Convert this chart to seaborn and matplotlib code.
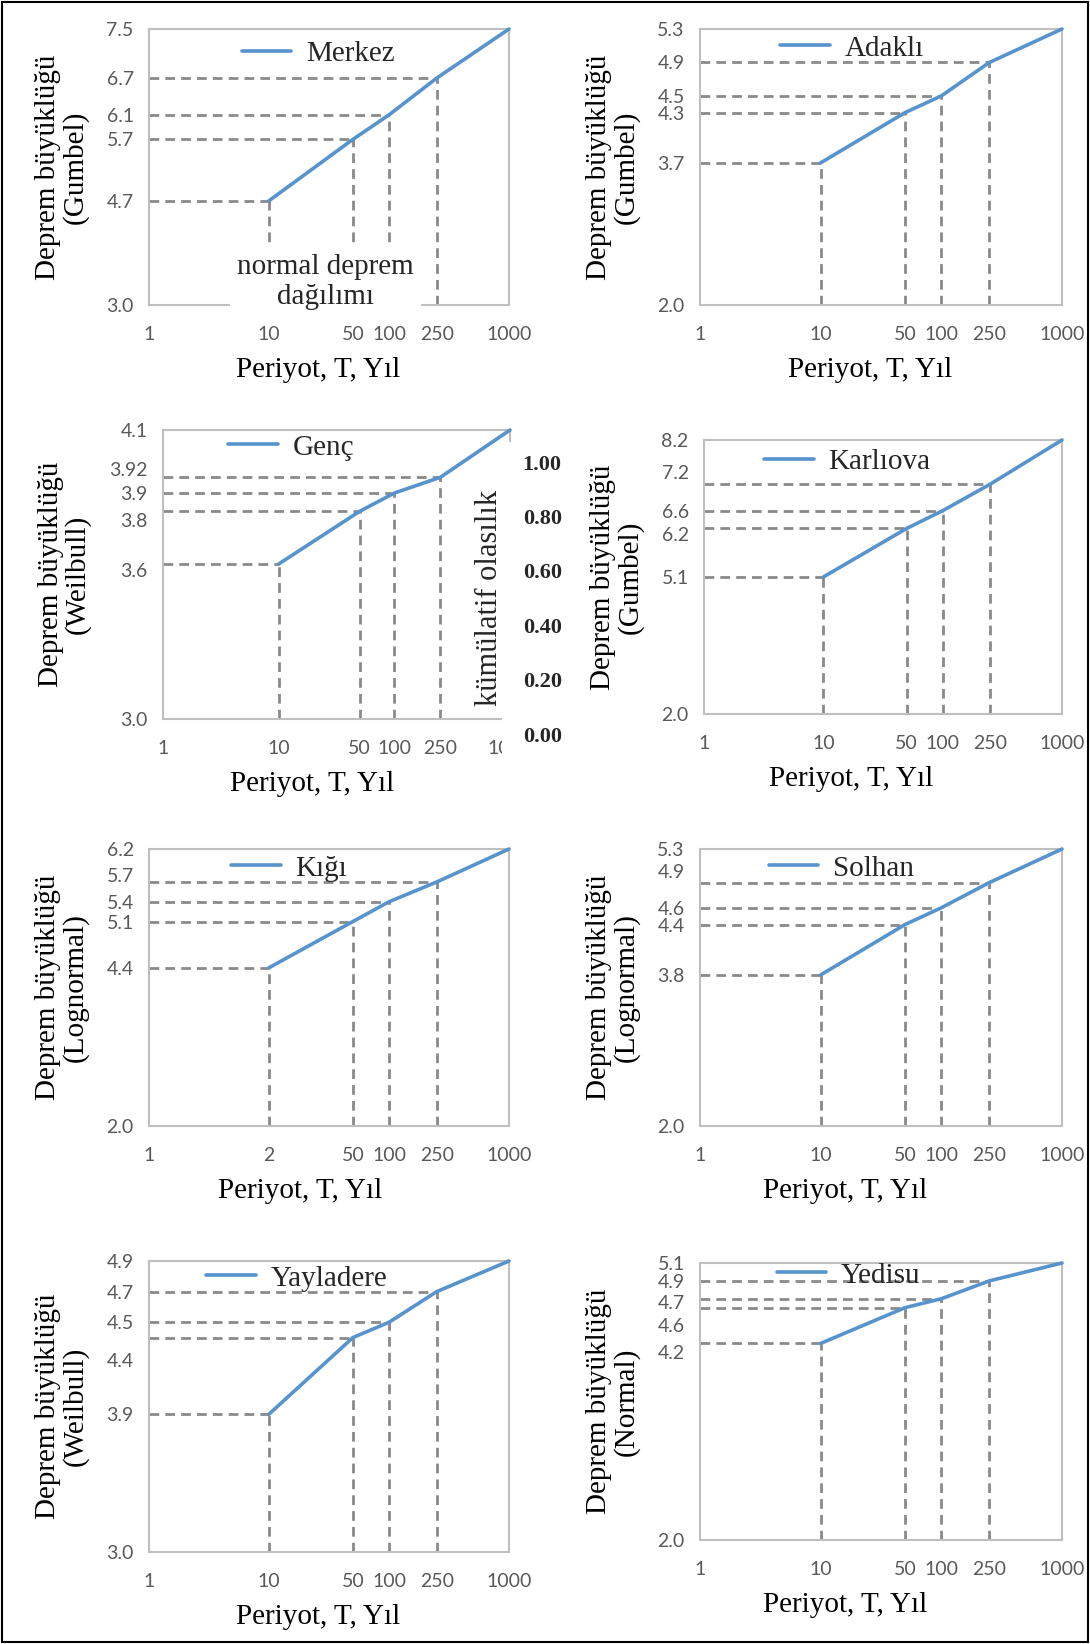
import matplotlib
matplotlib.use('Agg')
import matplotlib.pyplot as plt
import seaborn as sns
from matplotlib.patches import Rectangle
from matplotlib.ticker import NullLocator
from matplotlib.transforms import ScaledTranslation

# return periods (years) and magnitudes
periods = [10, 50, 100, 250, 1000]

stations = ['Merkez', 'Adaklı', 'Genç', 'Karlıova', 'Kığı', 'Solhan', 'Yayladere', 'Yedisu']
distributions = ['Gumbel', 'Gumbel', 'Weilbull', 'Gumbel', 'Lognormal', 'Lognormal', 'Weilbull', 'Normal']

merkez = [4.7, 5.7, 6.1, 6.7, 7.5]
adakli = [3.7, 4.3, 4.5, 4.9, 5.3]
genc = [3.59, 3.79, 3.86, 3.92, 4.1]
karliova = [5.1, 6.2, 6.6, 7.2, 8.2]
kigi = [4.4, 5.1, 5.4, 5.7, 6.2]
solhan = [3.8, 4.4, 4.6, 4.9, 5.3]
yayladere = [3.9, 4.4, 4.5, 4.7, 4.9]
yedisu = [4.2, 4.6, 4.7, 4.9, 5.1]
magnitudes = [merkez, adakli, genc, karliova, kigi, solhan, yayladere, yedisu]

y_min = [3.0, 2.0, 3.0, 2.0, 2.0, 2.0, 3.0, 2.0]

x_ticks = [1, 10, 50, 100, 250, 1000]
x_labels = ['1', '10', '50', '100', '250', '1000']
kigi_x_labels = ['1', '2', '50', '100', '250', '1000']
genc_y_labels = ['3.0', '3.6', '3.8', '3.9', '3.92', '4.1']
prob_ticks = [0.0, 0.2, 0.4, 0.6, 0.8, 1.0]

# layout (pixel boxes: left, top, right, bottom), legend anchors, xlabel centres
W, H = 1090, 1644
boxes = [(149, 29, 509, 305), (700, 29, 1062, 305),
         (163, 430, 510, 719), (704, 440, 1062, 714),
         (149, 849, 509, 1126), (700, 849, 1062, 1126),
         (149, 1261, 509, 1552), (700, 1263, 1062, 1540)]
legend_xy = [(0.47, 0.91), (0.42, 0.93), (0.37, 0.94), (0.40, 0.92),
             (0.39, 0.93), (0.39, 0.93), (0.41, 0.94), (0.41, 0.955)]
xlabel_x = [0.47, 0.47, 0.43, 0.41, 0.42, 0.40, 0.47, 0.40]
# y tick labels that sit off their line in the original (pixels, + = down)
label_nudge = {'Genç': {'3.92': -8, '3.8': 9, '3.6': 6},
               'Karlıova': {'7.2': -12, '6.2': 6},
               'Kığı': {'5.7': -7},
               'Solhan': {'4.9': -12},
               'Yayladere': {'4.4': 22},
               'Yedisu': {'4.7': 3, '4.6': 17, '4.2': 9}}

BLUE = '#5793cc'
GREY = '#8a8a8a'
SPINE = '#bfbfbf'
TICK = '#595959'
DASH = (0, (3.5, 2.2))

sns.set_theme(style='white')
plt.rcParams['font.family'] = ['Liberation Serif', 'DejaVu Serif']


def box(l, t, r, b):
    return [l / W, 1 - b / H, (r - l) / W, (b - t) / H]


fig = plt.figure(figsize=(10.9, 16.44), dpi=100)

axes = []
for i, name in enumerate(stations):
    ax = fig.add_axes(box(*boxes[i]))
    vals = magnitudes[i]
    lo, hi = y_min[i], vals[-1]
    ax.set_xscale('log')
    for p, v in zip(periods[:-1], vals[:-1]):
        ax.hlines(v, 1, p, colors=GREY, linestyles=DASH, lw=2.0, zorder=1)
        ax.vlines(p, lo, v, colors=GREY, linestyles=DASH, lw=2.0, zorder=1)
    sns.lineplot(x=periods, y=vals, ax=ax, color=BLUE, lw=2.6, label=name,
                 zorder=3, clip_on=False)
    ax.set_xlim(1, 1000)
    ax.set_ylim(lo, hi)
    ax.set_xticks(x_ticks)
    ax.set_xticklabels(kigi_x_labels if name == 'Kığı' else x_labels)
    ax.xaxis.set_minor_locator(NullLocator())
    ax.set_yticks([lo] + vals)
    if name == 'Genç':
        ax.set_yticklabels(genc_y_labels)
    else:
        ax.set_yticklabels([f'{v:.1f}' for v in [lo] + vals])
    ax.tick_params(axis='both', length=0, labelsize=14, labelcolor=TICK,
                   labelfontfamily='Lato')
    ax.tick_params(axis='x', pad=15)
    ax.tick_params(axis='y', pad=11)
    nudge = label_nudge.get(name, {})
    for lbl in ax.get_yticklabels():
        dy = nudge.get(lbl.get_text(), 0)
        if dy:
            lbl.set_transform(lbl.get_transform() +
                              ScaledTranslation(0, -dy / 100, fig.dpi_scale_trans))
    for s in ax.spines.values():
        s.set_color(SPINE)
        s.set_linewidth(1.5)
    ax.set_xlabel('Periyot, T, Yıl', fontsize=21, labelpad=10, color='black')
    ax.xaxis.label.set_x(xlabel_x[i])
    ax.set_ylabel(f'Deprem büyüklüğü\n({distributions[i]})', fontsize=21,
                  labelpad=13, color='black', linespacing=1.0)
    ax.legend(loc='center', bbox_to_anchor=legend_xy[i], frameon=False,
              prop={'family': 'Liberation Serif', 'size': 21},
              handlelength=1.7, handletextpad=0.5, borderpad=0)
    axes.append(ax)

# note inside Merkez panel, covering the bottom axis
axes[0].text(0.49, 0.083, 'normal deprem\ndağılımı', transform=axes[0].transAxes,
             ha='center', va='center', fontsize=21, linespacing=1.2, zorder=6,
             clip_on=False,
             bbox=dict(facecolor='white', edgecolor='none', pad=5))

# cumulative probability scale pasted beside the Genç panel
fig.add_artist(Rectangle((502 / W, 1 - 772 / H), 68 / W, 330 / H,
                         transform=fig.transFigure, facecolor='white',
                         edgecolor='none', zorder=5))
ax2 = fig.add_axes(box(512, 462, 513, 734))
ax2.set_zorder(6)
ax2.patch.set_alpha(0)
ax2.set_ylim(0, 1)
ax2.set_xticks([])
ax2.set_yticks(prob_ticks)
ax2.set_yticklabels([f'{v:.2f}' for v in prob_ticks])
ax2.yaxis.tick_right()
ax2.yaxis.set_label_position('left')
ax2.tick_params(axis='y', length=0, pad=7, labelsize=16)
for lbl in ax2.get_yticklabels():
    lbl.set_fontweight('bold')
for s in ax2.spines.values():
    s.set_visible(False)
ax2.set_ylabel('kümülatif olasılık', fontsize=22, labelpad=6)

# outer frame
fig.add_artist(Rectangle((0.002, 0.001), 0.996, 0.998, transform=fig.transFigure,
                         facecolor='none', edgecolor='black', lw=1.5, zorder=10))

fig.savefig('out.png', dpi=100)
